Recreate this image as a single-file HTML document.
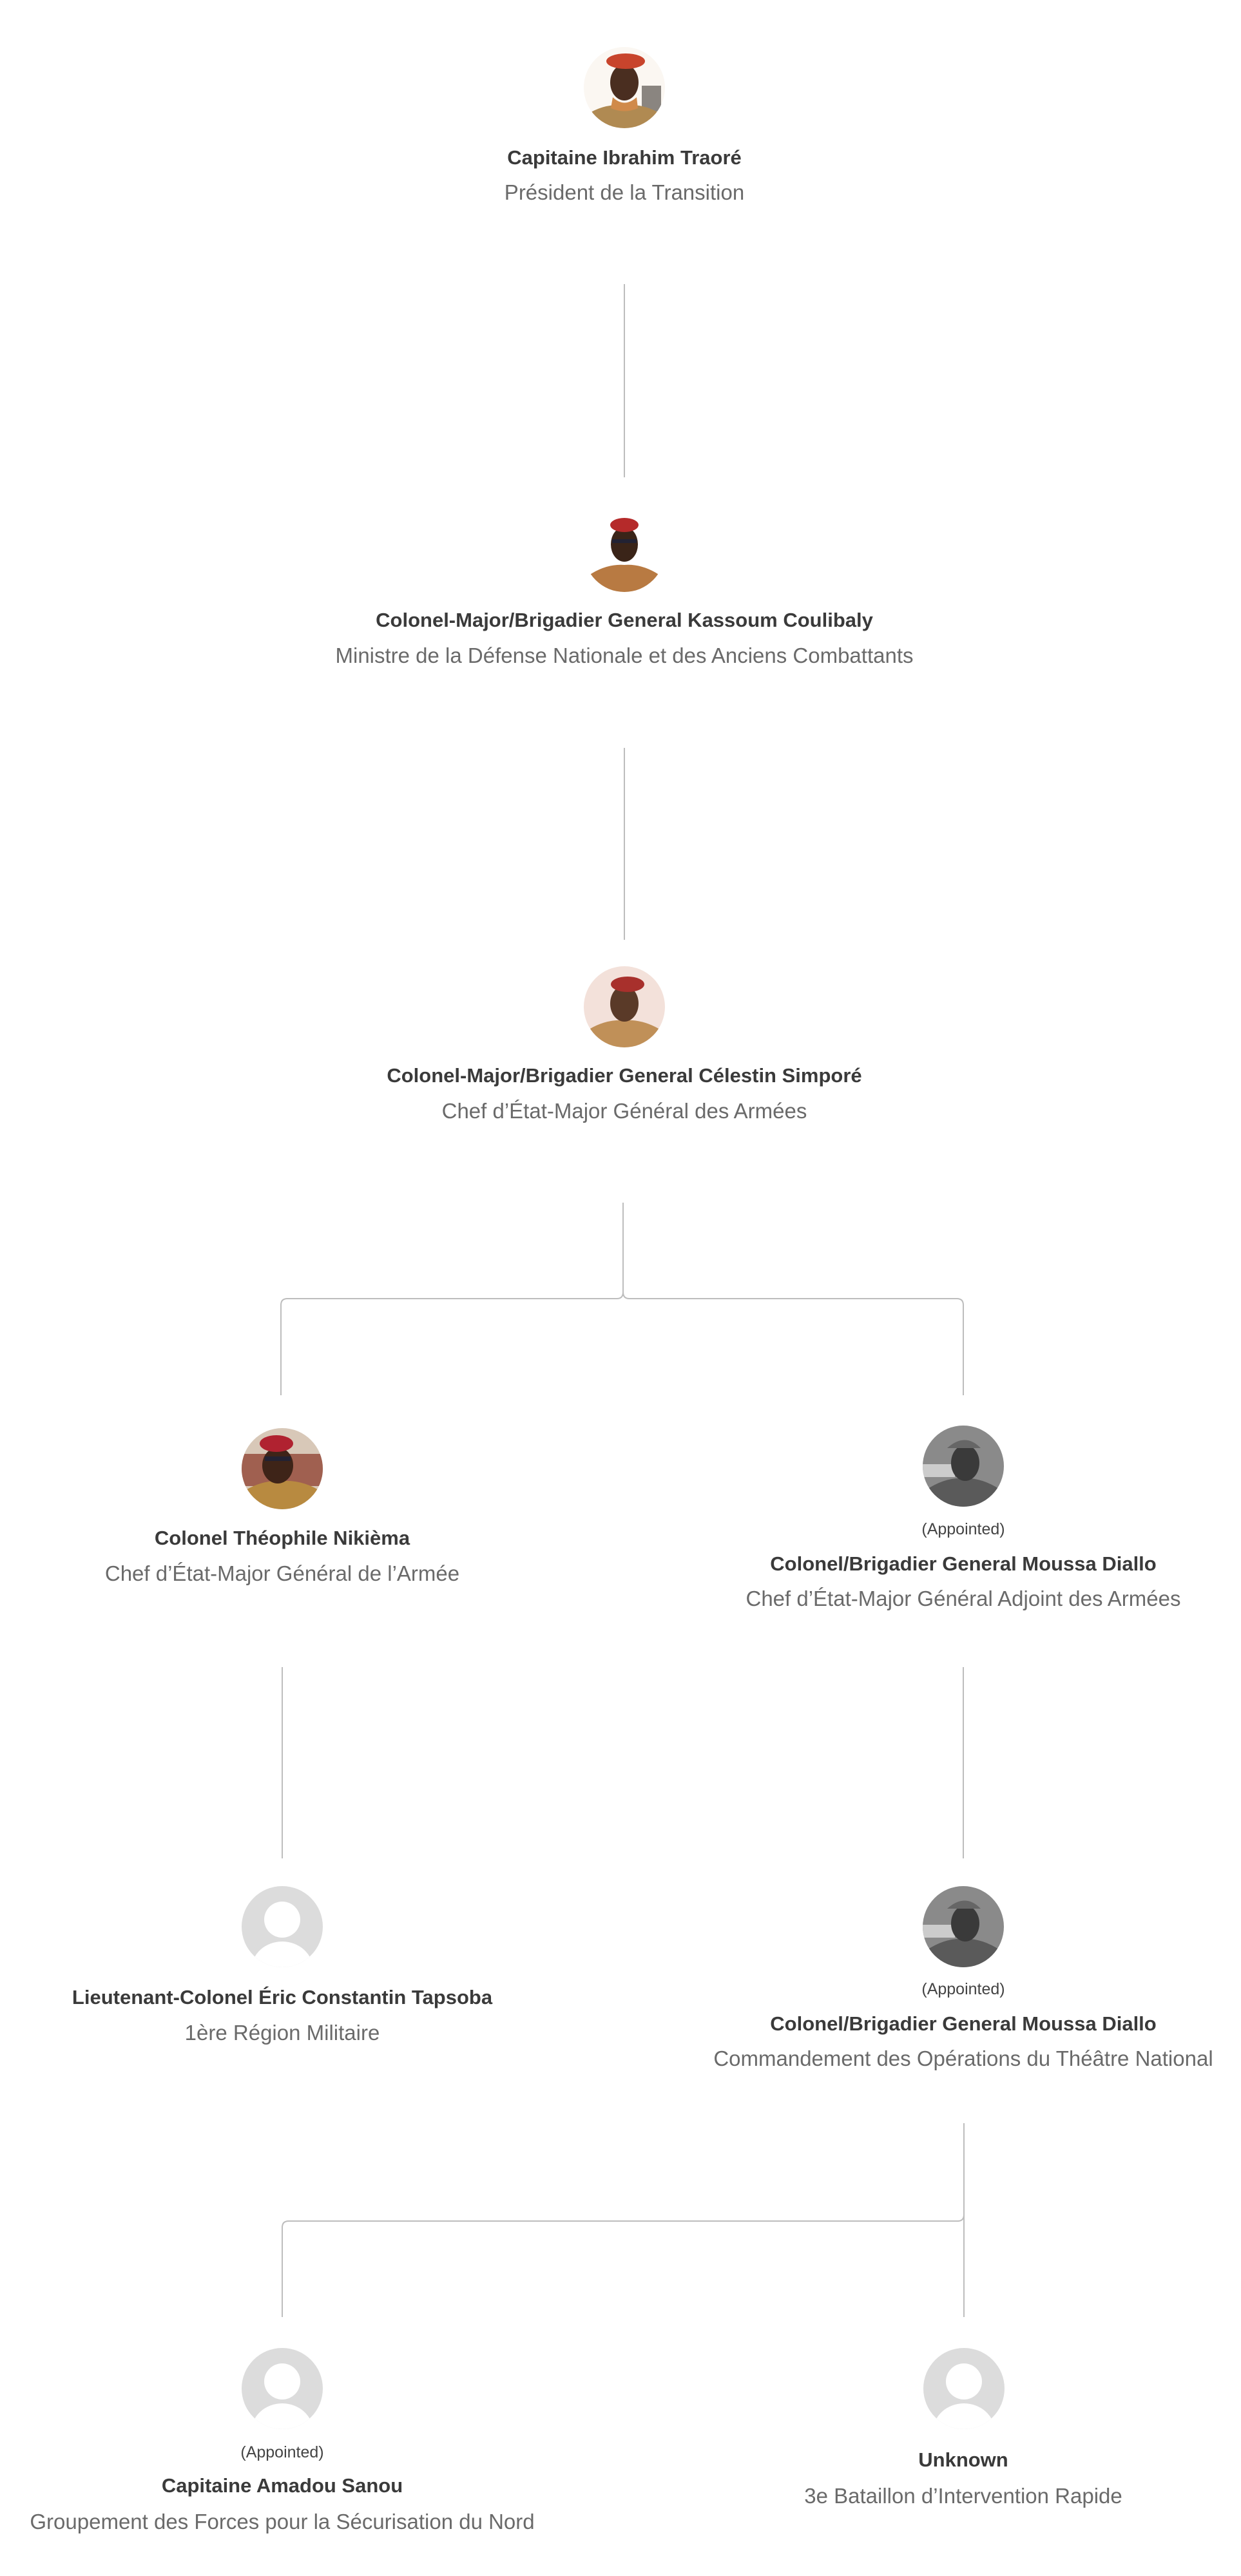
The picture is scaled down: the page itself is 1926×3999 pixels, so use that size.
<!DOCTYPE html>
<html><head><meta charset="utf-8">
<style>
html,body{margin:0;padding:0;background:#fff;}
body{width:1926px;height:3999px;position:relative;overflow:hidden;font-family:"Liberation Sans",sans-serif;}
.t{position:absolute;left:0;width:0;white-space:nowrap;text-align:center;}
.t span{display:inline-block;transform:translateX(-50%);}
.n{font-weight:bold;font-size:31px;color:#3a3a3a;letter-spacing:0px;line-height:1;}
.s{font-size:33px;color:#6a6a6a;line-height:1;letter-spacing:0px;}
.a{font-size:25px;color:#444;line-height:1;}
.av{position:absolute;width:126px;height:126px;border-radius:50%;overflow:hidden;}
</style></head><body>
<svg width="1926" height="3999" style="position:absolute;left:0;top:0" fill="none" stroke="#bdbdbd" stroke-width="2">
<line x1="969" y1="441" x2="969" y2="741"/>
<line x1="969" y1="1161" x2="969" y2="1459"/>
<path d="M967 1867 V2006 Q967 2016 957 2016 H446 Q436 2016 436 2026 V2166"/>
<path d="M967 2006 Q967 2016 977 2016 H1485 Q1495 2016 1495 2026 V2166"/>
<line x1="438" y1="2588" x2="438" y2="2885"/>
<line x1="1495" y1="2588" x2="1495" y2="2885"/>
<path d="M1496 3296 V3438 Q1496 3448 1486 3448 H448 Q438 3448 438 3458 V3597"/>
<line x1="1496" y1="3438" x2="1496" y2="3597"/>
</svg>

<div class="av" style="left:906px;top:73px">
<svg width="126" height="126" viewBox="0 0 126 126"><rect width="126" height="126" fill="#fbf7f2"/><rect x="90" y="60" width="30" height="40" fill="#8a8580"/><path d="M0 126 L5 105 Q30 88 63 90 Q96 88 121 105 L126 126Z" fill="#b08a52"/><path d="M45 78 Q63 95 82 78 L84 95 Q63 104 42 95Z" fill="#d08a4a"/><ellipse cx="63" cy="55" rx="22" ry="28" fill="#4a2e20"/><ellipse cx="65" cy="22" rx="30" ry="12" fill="#c8442c"/></svg></div>
<div class="av" style="left:906px;top:793px">
<svg width="126" height="126" viewBox="0 0 126 126"><rect width="126" height="126" fill="#fff"/><path d="M0 126 L8 100 Q35 82 63 84 Q91 82 118 100 L126 126Z" fill="#b87a42"/><ellipse cx="63" cy="52" rx="21" ry="27" fill="#3a2418"/><rect x="44" y="44" width="38" height="6" fill="#223"/><ellipse cx="63" cy="22" rx="22" ry="11" fill="#b52a2a"/></svg></div>
<div class="av" style="left:906px;top:1500px">
<svg width="126" height="126" viewBox="0 0 126 126"><rect width="126" height="126" fill="#f3e1da"/><path d="M0 126 L8 98 Q35 82 63 84 Q91 82 118 98 L126 126Z" fill="#c09058"/><ellipse cx="63" cy="58" rx="22" ry="28" fill="#5a3a28"/><ellipse cx="68" cy="28" rx="26" ry="12" fill="#a8302c"/></svg></div>
<div class="av" style="left:375px;top:2217px">
<svg width="126" height="126" viewBox="0 0 126 126"><rect width="126" height="126" fill="#d8c8b8"/><rect y="40" width="126" height="50" fill="#a06050"/><path d="M0 126 L0 100 Q30 80 63 82 Q96 80 126 100 L126 126Z" fill="#b88a40"/><ellipse cx="56" cy="58" rx="24" ry="28" fill="#3e2418"/><rect x="36" y="44" width="40" height="7" fill="#223"/><ellipse cx="54" cy="24" rx="26" ry="13" fill="#b02230"/></svg></div>
<div class="av" style="left:1432px;top:2213px">
<svg width="126" height="126" viewBox="0 0 126 126"><rect width="126" height="126" fill="#8a8a8a"/><rect y="60" width="50" height="20" fill="#ccc"/><path d="M0 126 L5 100 Q35 80 63 82 Q91 80 121 100 L126 126Z" fill="#5a5a5a"/><ellipse cx="66" cy="58" rx="22" ry="28" fill="#3a3a3a"/><path d="M38 35 Q66 10 90 35 Z" fill="#666"/></svg></div>
<div class="av" style="left:1432px;top:2928px">
<svg width="126" height="126" viewBox="0 0 126 126"><rect width="126" height="126" fill="#8a8a8a"/><rect y="60" width="50" height="20" fill="#ccc"/><path d="M0 126 L5 100 Q35 80 63 82 Q91 80 121 100 L126 126Z" fill="#5a5a5a"/><ellipse cx="66" cy="58" rx="22" ry="28" fill="#3a3a3a"/><path d="M38 35 Q66 10 90 35 Z" fill="#666"/></svg></div>
<div class="av" style="left:375px;top:2928px"><svg width="126" height="126" viewBox="0 0 126 126"><rect width="126" height="126" fill="#dcdcdc"/><circle cx="63" cy="52" r="28" fill="#fff"/><ellipse cx="63" cy="130" rx="48" ry="44" fill="#fff"/></svg></div>
<div class="av" style="left:375px;top:3645px"><svg width="126" height="126" viewBox="0 0 126 126"><rect width="126" height="126" fill="#dcdcdc"/><circle cx="63" cy="52" r="28" fill="#fff"/><ellipse cx="63" cy="130" rx="48" ry="44" fill="#fff"/></svg></div>
<div class="av" style="left:1433px;top:3645px"><svg width="126" height="126" viewBox="0 0 126 126"><rect width="126" height="126" fill="#dcdcdc"/><circle cx="63" cy="52" r="28" fill="#fff"/><ellipse cx="63" cy="130" rx="48" ry="44" fill="#fff"/></svg></div>

<div class="t n" style="left:969px;top:229px"><span>Capitaine Ibrahim Traoré</span></div>
<div class="t s" style="left:969px;top:282px"><span>Président de la Transition</span></div>

<div class="t n" style="left:969px;top:947px"><span>Colonel-Major/Brigadier General Kassoum Coulibaly</span></div>
<div class="t s" style="left:969px;top:1001px"><span>Ministre de la Défense Nationale et des Anciens Combattants</span></div>

<div class="t n" style="left:969px;top:1654px"><span>Colonel-Major/Brigadier General Célestin Simporé</span></div>
<div class="t s" style="left:969px;top:1708px"><span>Chef d’État-Major Général des Armées</span></div>

<div class="t n" style="left:438px;top:2372px"><span>Colonel Théophile Nikièma</span></div>
<div class="t s" style="left:438px;top:2426px"><span>Chef d’État-Major Général de l’Armée</span></div>

<div class="t a" style="left:1495px;top:2362px"><span>(Appointed)</span></div>
<div class="t n" style="left:1495px;top:2412px"><span>Colonel/Brigadier General Moussa Diallo</span></div>
<div class="t s" style="left:1495px;top:2465px"><span>Chef d’État-Major Général Adjoint des Armées</span></div>

<div class="t n" style="left:438px;top:3085px"><span>Lieutenant-Colonel Éric Constantin Tapsoba</span></div>
<div class="t s" style="left:438px;top:3139px"><span>1ère Région Militaire</span></div>

<div class="t a" style="left:1495px;top:3076px"><span>(Appointed)</span></div>
<div class="t n" style="left:1495px;top:3126px"><span>Colonel/Brigadier General Moussa Diallo</span></div>
<div class="t s" style="left:1495px;top:3179px"><span>Commandement des Opérations du Théâtre National</span></div>

<div class="t a" style="left:438px;top:3795px"><span>(Appointed)</span></div>
<div class="t n" style="left:438px;top:3843px"><span>Capitaine Amadou Sanou</span></div>
<div class="t s" style="left:438px;top:3898px"><span>Groupement des Forces pour la Sécurisation du Nord</span></div>

<div class="t n" style="left:1495px;top:3803px"><span>Unknown</span></div>
<div class="t s" style="left:1495px;top:3858px"><span>3e Bataillon d’Intervention Rapide</span></div>
</body></html>
